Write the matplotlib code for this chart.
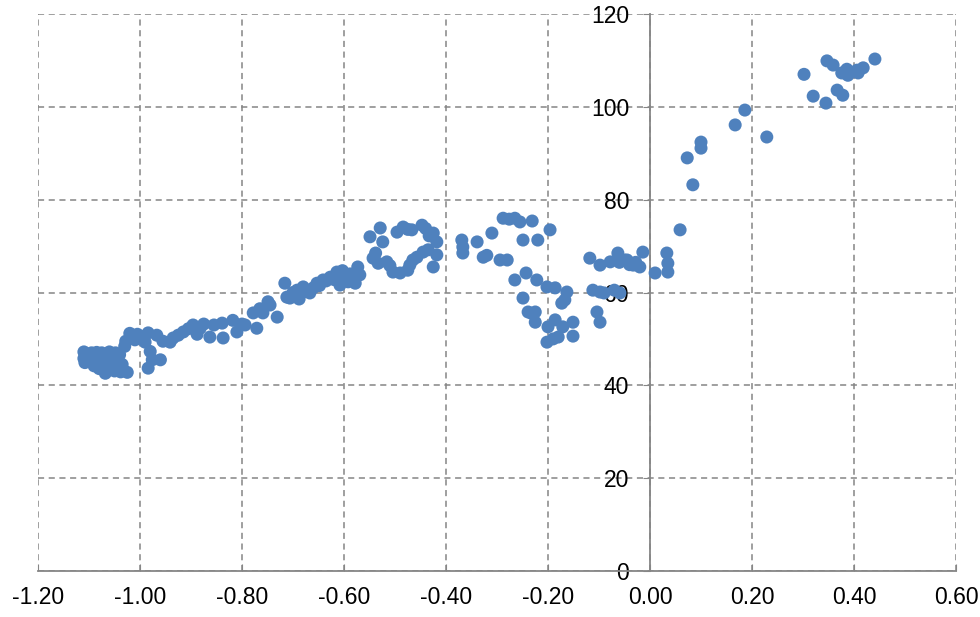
import matplotlib
matplotlib.use("Agg")
import matplotlib.pyplot as plt

# 数据
x_vals = [
    -1.110, -1.110, -1.108, -1.100, -1.098, -1.095, -1.090, -1.088, -1.085, -1.082,
    -1.080, -1.078, -1.075, -1.072, -1.070, -1.068, -1.065, -1.062, -1.060, -1.058,
    -1.055, -1.052, -1.050, -1.048, -1.045, -1.042, -1.040, -1.038, -1.035, -1.030,
    -1.028, -1.025, -1.020, -1.015, -1.010, -1.005,
    -0.995, -0.990, -0.984, -0.980, -0.976, -0.984, -0.967, -0.960, -0.955, -0.941,
    -0.935, -0.925, -0.915, -0.905, -0.896, -0.888, -0.882, -0.875, -0.863, -0.855,
    -0.839, -0.837, -0.818, -0.810, -0.800, -0.794, -0.778, -0.771, -0.765, -0.759,
    -0.749, -0.745, -0.731,
    -0.716, -0.712, -0.706, -0.700, -0.692, -0.688, -0.680, -0.675, -0.667, -0.660,
    -0.653, -0.648, -0.641, -0.635, -0.627, -0.620, -0.614, -0.608, -0.603, -0.598,
    -0.592, -0.588, -0.584, -0.578, -0.573, -0.569,
    -0.549, -0.529, -0.524, -0.543, -0.533, -0.516, -0.510, -0.504, -0.490, -0.496,
    -0.484, -0.475, -0.467, -0.447, -0.440, -0.433, -0.425, -0.418, -0.418, -0.425,
    -0.471, -0.457, -0.445, -0.435, -0.465, -0.475, -0.538,
    -0.369, -0.367, -0.367, -0.339, -0.327, -0.320, -0.310, -0.294, -0.280, -0.288,
    -0.276, -0.265, -0.255, -0.231, -0.249, -0.220, -0.196, -0.265, -0.243, -0.222,
    -0.249, -0.239, -0.232, -0.225, -0.225, -0.202, -0.186, -0.163, -0.167, -0.173,
    -0.200, -0.186, -0.171, -0.151, -0.202, -0.190, -0.180, -0.151,
    -0.118, -0.098, -0.112, -0.098, -0.090, -0.104, -0.098, -0.078, -0.063, -0.060,
    -0.050, -0.045, -0.040, -0.033, -0.028, -0.020, -0.014, -0.059, -0.070,
    0.010, 0.033, 0.035, 0.035, 0.059,
    0.084, 0.073, 0.100, 0.100, 0.167, 0.186, 0.229, 0.302, 0.320, 0.345,
    0.347, 0.359, 0.367, 0.378, 0.376, 0.386, 0.388, 0.406, 0.408, 0.418, 0.441,
]
y_vals = [
    47.2, 45.8, 44.9, 46.5, 45.3, 47.0, 44.2, 46.0, 47.1, 44.8,
    43.6, 46.2, 47.0, 45.2, 44.0, 42.6, 46.5, 45.0, 47.2, 43.5,
    44.6, 46.2, 43.1, 47.0, 45.5, 43.8, 46.6, 42.9, 44.5, 48.4,
    49.5, 42.8, 51.2, 50.4, 49.8, 51.0,
    50.5, 49.3, 51.3, 47.3, 45.5, 43.7, 50.8, 45.5, 49.5, 49.3,
    50.2, 50.8, 51.5, 52.2, 53.0, 51.0, 52.3, 53.2, 50.4, 53.0,
    53.4, 50.2, 54.0, 51.5, 53.2, 53.0, 55.6, 52.3, 56.5, 55.6,
    58.0, 57.3, 54.7,
    62.0, 59.0, 58.8, 60.0, 60.5, 58.6, 61.2, 60.2, 59.9, 61.0,
    62.0, 61.5, 62.7, 62.5, 63.3, 62.8, 64.4, 61.6, 64.7, 63.8,
    62.3, 64.0, 63.1, 62.0, 65.5, 63.8,
    72.0, 73.9, 70.9, 67.4, 66.3, 66.6, 65.8, 64.4, 64.2, 73.0,
    74.1, 73.6, 73.5, 74.5, 73.8, 72.2, 72.8, 70.9, 68.1, 65.5,
    65.9, 67.6, 68.7, 69.2, 67.0, 64.8, 68.5,
    71.3, 69.8, 68.5, 70.9, 67.6, 68.0, 72.8, 67.0, 67.0, 76.0,
    75.8, 76.0, 75.2, 75.4, 71.3, 71.3, 73.5, 62.7, 64.2, 62.7,
    58.8, 55.8, 55.5, 55.8, 53.6, 61.2, 61.0, 60.1, 58.4, 57.7,
    52.6, 54.1, 52.6, 53.6, 49.3, 50.0, 50.4, 50.6,
    67.4, 65.9, 60.5, 60.1, 59.9, 55.8, 53.6, 66.6, 68.5, 66.5,
    67.0, 67.0, 66.0, 65.9, 66.5, 65.5, 68.7, 59.9, 60.5,
    64.2, 68.5, 66.3, 64.4, 73.5,
    83.2, 89.0, 92.4, 91.1, 96.1, 99.3, 93.5, 107.0, 102.3, 100.8,
    109.9, 109.0, 103.6, 102.5, 107.3, 108.1, 106.8, 107.9, 107.3, 108.4, 110.3,
]
x_ticks = [-1.2, -1.0, -0.8, -0.6, -0.4, -0.2, 0.0, 0.2, 0.4, 0.6]
y_ticks = [0, 20, 40, 60, 80, 100, 120]

plt.rcParams['font.family'] = ['Liberation Sans', 'DejaVu Sans']

fig = plt.figure(figsize=(9.8, 6.17), dpi=100)
ax = fig.add_axes([38 / 980, 46 / 617, 918 / 980, 557 / 617])

ax.scatter(x_vals, y_vals, s=88, color='#4F81BD', edgecolors='none', zorder=3)

ax.set_xlim(-1.2, 0.6)
ax.set_ylim(0, 120)
ax.set_xticks(x_ticks)
ax.set_yticks(y_ticks)
ax.set_xticklabels([f'{t:.2f}' for t in x_ticks])

ax.grid(True, color='#858585', linestyle=(0, (4, 3)), linewidth=1.1)
ax.set_axisbelow(True)

ax.spines['left'].set_position(('data', 0))
ax.spines['top'].set_visible(False)
ax.spines['right'].set_visible(False)
for s in ('left', 'bottom'):
    ax.spines[s].set_color('#868686')
    ax.spines[s].set_linewidth(1.3)
    ax.spines[s].set_zorder(2)

ax.tick_params(axis='x', direction='in', length=5, color='#868686',
               labelsize=16.5, pad=11)
ax.tick_params(axis='y', direction='out', length=5, color='#868686',
               labelsize=16.5, pad=10)

fig.savefig('out.png', dpi=100)
